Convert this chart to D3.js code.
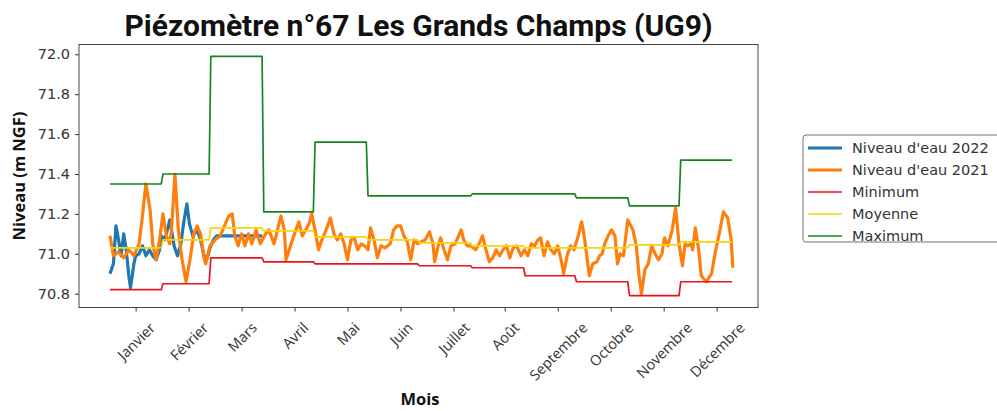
<!DOCTYPE html>
<html>
<head>
<meta charset="utf-8">
<script src="https://cdn.jsdelivr.net/npm/d3@7"></script>
<style>
  body { margin: 0; background: #fff; }
  svg { display: block; }
</style>
</head>
<body>
<svg id="chart" width="997" height="411"></svg>
<script>
// données
var mois = ['Janvier','Février','Mars','Avril','Mai','Juin','Juillet','Août','Septembre','Octobre','Novembre','Décembre'];
var joursMois = [31,28,31,30,31,30,31,31,30,31,30,31];
var tickJours = [15,46,77,108,139,170,201,231,262,293,324,355];
var yTicks = [70.8,71.0,71.2,71.4,71.6,71.8,72.0];

var minimum = [70.82,70.85,70.98,70.96,70.95,70.95,70.94,70.93,70.89,70.86,70.79,70.86];
var moyenne = [71.03,71.07,71.13,71.115,71.085,71.07,71.055,71.04,71.03,71.03,71.045,71.06];
var maximum = [71.35,71.40,71.99,71.21,71.56,71.29,71.29,71.30,71.30,71.28,71.24,71.47];

var niveau2022 = [[0,70.90],[2,70.95],[3.5,71.14],[5,71.07],[6.5,70.99],[8,71.10],[9.5,71.02],[11,70.89],[12,70.83],
  [14,70.95],[15,70.99],[17,71.00],[19,71.04],[21,70.99],[23,71.02],[25,70.99],[27,70.97],[29,71.02],[30,71.09],
  [32,71.07],[33,71.10],[35,71.17],[36,71.12],[37.5,71.04],[39.5,70.99],[41.5,71.05],[43,71.15],[45,71.25],
  [46.5,71.15],[48.5,71.09],[51,71.12],[53,71.07],[55,70.99],[57,70.98],[58.5,71.03],[60.5,71.07],[62.5,71.09],
  [65.5,71.09],[75,71.09],[89,71.09]];

var niveau2021 = [[0,71.09],[2,70.99],[5,71.01],[8,70.98],[11,71.02],[14,70.99],[17,71.05],[19,71.19],[21,71.35],
  [23.5,71.22],[25,71.05],[27,70.97],[29,71.07],[31,71.20],[33,71.09],[35,71.05],[36,71.12],[38,71.40],[40,71.12],
  [42,70.98],[44.5,70.86],[47,70.98],[49,71.10],[51,71.14],[53,71.10],[55,70.98],[56,70.95],[58.5,71.04],[61.5,71.07],
  [64.5,71.09],[67.5,71.15],[69.5,71.19],[71.5,71.20],[73,71.09],[75,71.04],[77,71.10],[79,71.04],[81,71.10],[83,71.05],
  [85.5,71.12],[88,71.05],[91,71.10],[93,71.12],[96,71.05],[98,71.12],[100,71.19],[102,71.12],[103,70.97],[106,71.05],
  [108,71.10],[110.5,71.16],[112.5,71.09],[114.5,71.12],[116.5,71.15],[118,71.20],[120,71.12],[122,71.02],[124,71.07],
  [126.5,71.12],[129,71.18],[131,71.10],[133,71.07],[135,71.10],[137,71.05],[139,70.97],[141,71.07],[143,71.08],
  [145,71.02],[147,71.05],[149,71.04],[151,71.02],[152.5,71.13],[154.5,71.07],[156.5,70.98],[158.5,71.04],[161,71.03],
  [164,71.05],[166,71.12],[168,71.14],[170,71.14],[172,71.09],[174,71.06],[176,70.97],[178,71.07],[180,71.05],
  [182,71.06],[184.5,71.07],[187,71.11],[189,71.05],[190,70.96],[192,71.04],[193.5,71.08],[195.5,71.02],[197.5,70.97],
  [199.5,71.04],[202,71.05],[203.5,71.08],[205.5,71.12],[207,71.07],[209,71.04],[211,71.04],[214,71.02],[216,71.05],
  [218,71.09],[220,71.02],[222,70.96],[224,70.98],[226,71.02],[228,70.99],[230,71.02],[232,71.04],[234,70.98],
  [236,71.03],[238,71.04],[240.5,70.99],[242.5,71.02],[244.5,70.99],[246.5,71.05],[248.5,71.04],[250.5,71.07],
  [252,71.08],[254,70.99],[256,71.06],[258,71.02],[260,71.00],[262,71.04],[264,70.97],[265.5,70.90],[267.5,70.99],
  [269.5,71.04],[271.5,71.02],[274,71.09],[276,71.16],[277.5,71.09],[279,70.99],[280.5,70.89],[282.5,70.95],
  [285,70.96],[286.5,70.99],[288,71.00],[289.5,71.05],[291.5,71.09],[293.5,71.12],[295.5,71.09],[297,70.95],
  [298.5,71.00],[300.5,70.99],[303,71.17],[306,71.12],[308,71.04],[309.5,70.90],[311,70.80],[313,70.92],[315,70.95],
  [317,71.04],[319,71.00],[321,70.97],[323,71.00],[324.5,71.08],[326.5,71.04],[329,71.12],[331,71.23],[333,71.05],
  [335,70.94],[336.5,71.05],[338,71.04],[340,71.05],[341,71.02],[342.5,71.13],[344.5,71.02],[346,70.89],[349,70.86],
  [352,70.90],[354.5,71.02],[357,71.12],[359,71.21],[361.5,71.18],[363.5,71.07],[364.5,70.93]];

// mois -> points journaliers (début et fin de mois)
function parMois(vals){
	var pts = [], debut = 0;
	vals.forEach(function(v, i){
		pts.push([debut, v]);
		pts.push([debut + joursMois[i] - 1, v]);
		debut += joursMois[i];
	});
	return pts;
}

var svg = d3.select('#chart');
var cadre = {left: 79, right: 758, top: 44.5, bottom: 307.5};

var x = d3.scaleLinear().domain([0, 364]).range([110, 732]);
var y = d3.scaleLinear().domain([70.8, 72.0]).range([293.7, 54.3]);

svg.append('rect').attr('width', 997).attr('height', 411).attr('fill', '#fff');

// titre
svg.append('text')
	.attr('x', (cadre.left + cadre.right) / 2)
	.attr('y', 36)
	.attr('text-anchor', 'middle')
	.style('font-family', 'Roboto')
	.style('font-weight', 'bold')
	.style('font-size', '30px')
	.attr('fill', '#111')
	.text('Piézomètre n°67 Les Grands Champs (UG9)');

// axe y
var yAxis = svg.append('g')
	.attr('transform', 'translate(' + cadre.left + ',0)')
	.call(d3.axisLeft(y).tickValues(yTicks).tickFormat(d3.format('.1f')).tickSize(4).tickPadding(5));
yAxis.select('.domain').remove();
yAxis.selectAll('text').style('font-family', 'DejaVu Sans').style('font-size', '14.5px').attr('fill', '#333');
yAxis.selectAll('line').attr('stroke', '#333');

// axe x
var xAxis = svg.append('g')
	.attr('transform', 'translate(0,' + cadre.bottom + ')')
	.call(d3.axisBottom(x).tickValues(tickJours).tickFormat(function(d, i){ return mois[i]; }).tickSize(4));
xAxis.select('.domain').remove();
xAxis.selectAll('line').attr('stroke', '#333');
xAxis.selectAll('text')
	.style('font-family', 'Open Sans')
	.style('font-size', '14.5px')
	.attr('fill', '#333')
	.attr('y', 0).attr('dy', 0)
	.attr('text-anchor', 'middle')
	.attr('dominant-baseline', 'central')
	.attr('transform', function(){
		var w = this.getComputedTextLength();
		var c = 12 + (w + 15) * 0.3536;
		return 'translate(0,' + c + ') rotate(-45)';
	});

// cadre
svg.append('rect')
	.attr('x', cadre.left).attr('y', cadre.top)
	.attr('width', cadre.right - cadre.left).attr('height', cadre.bottom - cadre.top)
	.attr('fill', 'none').attr('stroke', '#444').attr('stroke-width', 1);

var line = d3.line().x(function(d){ return x(d[0]); }).y(function(d){ return y(d[1]); });

var series = [
	{nom: "Niveau d'eau 2022", data: niveau2022, couleur: '#1f77b4', w: 3.2},
	{nom: "Niveau d'eau 2021", data: niveau2021, couleur: '#ff7f0e', w: 3.2},
	{nom: 'Minimum', data: parMois(minimum), couleur: '#e8141c', w: 1.7},
	{nom: 'Moyenne', data: parMois(moyenne), couleur: '#f5d50c', w: 1.7},
	{nom: 'Maximum', data: parMois(maximum), couleur: '#17851d', w: 1.7}
];

svg.selectAll('path.serie')
	.data(series)
	.enter()
	.append('path')
	.attr('class', 'serie')
	.attr('d', function(d){ return line(d.data); })
	.attr('fill', 'none')
	.attr('stroke', function(d){ return d.couleur; })
	.attr('stroke-width', function(d){ return d.w; })
	.attr('stroke-linejoin', 'round');

// libellés des axes
svg.append('text')
	.attr('transform', 'translate(25,' + (cadre.top + cadre.bottom) / 2 + ') rotate(-90)')
	.attr('text-anchor', 'middle')
	.style('font-family', 'Open Sans')
	.style('font-weight', 'bold')
	.style('font-size', '16.5px')
	.attr('fill', '#111')
	.text('Niveau (m NGF)');

svg.append('text')
	.attr('x', 420).attr('y', 405)
	.attr('text-anchor', 'middle')
	.style('font-family', 'Open Sans')
	.style('font-weight', 'bold')
	.style('font-size', '16.5px')
	.attr('fill', '#111')
	.text('Mois');

// légende
var leg = svg.append('g').attr('transform', 'translate(803,135)');
leg.append('rect')
	.attr('width', 200).attr('height', 107).attr('rx', 3)
	.attr('fill', '#fff').attr('stroke', '#777');
var items = leg.selectAll('g.item')
	.data(series)
	.enter()
	.append('g')
	.attr('class', 'item')
	.attr('transform', function(d, i){ return 'translate(0,' + (13 + i * 22) + ')'; });
items.append('line')
	.attr('x1', 5).attr('x2', 39)
	.attr('stroke', function(d){ return d.couleur; })
	.attr('stroke-width', function(d){ return d.w; });
items.append('text')
	.attr('x', 49)
	.attr('dominant-baseline', 'central')
	.style('font-family', 'DejaVu Sans')
	.style('font-size', '14.5px')
	.attr('fill', '#333')
	.text(function(d){ return d.nom; });
</script>
</body>
</html>
